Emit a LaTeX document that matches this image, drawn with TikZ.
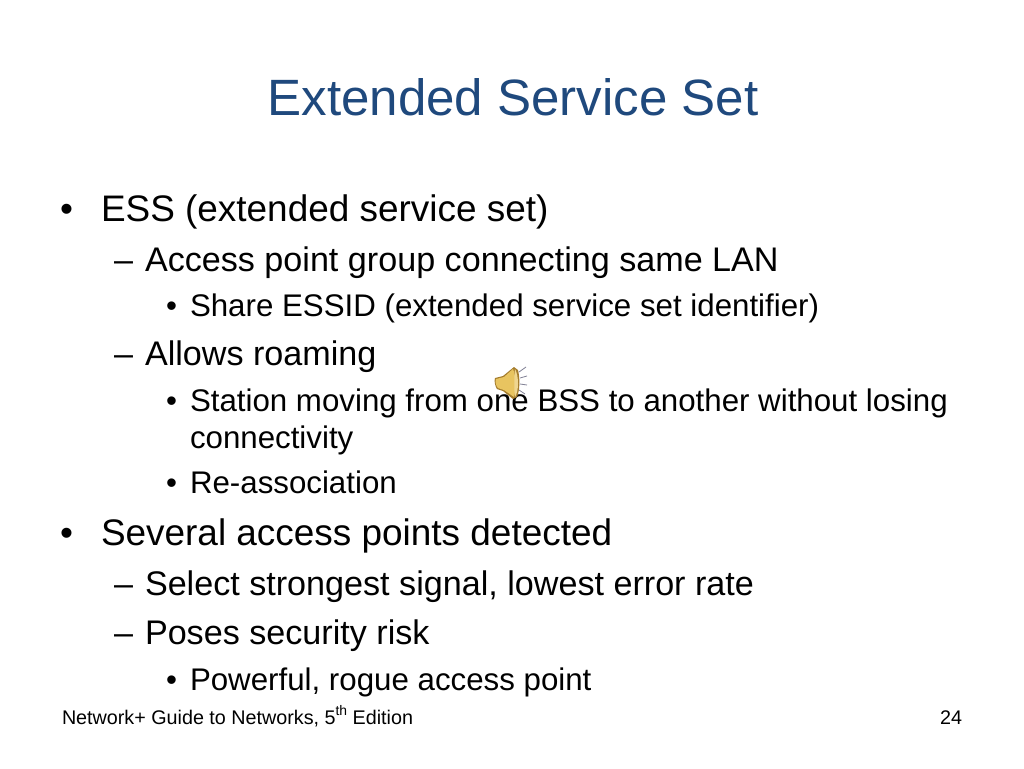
\documentclass[tikz,border=0pt]{standalone}
\usepackage{fontspec}
\setmainfont{Liberation Sans}
\definecolor{titleblue}{RGB}{31,73,125}
\definecolor{hornyellow}{RGB}{232,196,96}
\definecolor{horndark}{RGB}{165,125,45}
\definecolor{raygrey}{RGB}{130,130,150}
\tikzset{
  line/.style={anchor=base west, inner sep=0pt, outer sep=0pt, text=black},
  levelone/.style={line, font=\fontsize{27.7}{32}\selectfont},
  leveltwo/.style={line, font=\fontsize{25.6}{30}\selectfont},
  levelthree/.style={line, font=\fontsize{23.45}{28}\selectfont},
  footer/.style={line, font=\fontsize{14.8}{17}\selectfont}
}
\begin{document}
\begin{tikzpicture}[x=0.75pt,y=-0.75pt]
\useasboundingbox (0,0) rectangle (1024,768);
\fill[white] (0,0) rectangle (1024,768);
\node[anchor=base, inner sep=0pt, text=titleblue, font=\fontsize{38.3}{44}\selectfont] (title) at (513,115) {Extended Service Set};
% first block
\node[levelone] (bulletA) at (60,221) {•};
\node[levelone] (ess) at (101,221) {ESS (extended service set)};
\node[leveltwo] (dashA) at (114,271) {–};
\node[leveltwo] (group) at (145,271) {Access point group connecting same LAN};
\node[levelthree] (dotA) at (166,316) {•};
\node[levelthree] (share) at (190,316) {Share ESSID (extended service set identifier)};
\node[leveltwo] (dashB) at (114,365) {–};
\node[leveltwo] (roam) at (145,365) {Allows roaming};
\node[levelthree] (dotB) at (166,411) {•};
\node[levelthree] (moving) at (190,411) {Station moving from one BSS to another without losing};
\node[levelthree] (conn) at (190,448) {connectivity};
\node[levelthree] (dotC) at (166,493) {•};
\node[levelthree] (reassoc) at (190,493) {Re-association};
% second block
\node[levelone] (bulletB) at (60,545) {•};
\node[levelone] (several) at (101,545) {Several access points detected};
\node[leveltwo] (dashC) at (114,595) {–};
\node[leveltwo] (select) at (145,595) {Select strongest signal, lowest error rate};
\node[leveltwo] (dashD) at (114,644) {–};
\node[leveltwo] (poses) at (145,644) {Poses security risk};
\node[levelthree] (dotD) at (166,690) {•};
\node[levelthree] (rogue) at (190,690) {Powerful, rogue access point};
% footer
\node[footer] (guide) at (62,724) {Network+ Guide to Networks, 5\raisebox{0.42em}{\fontsize{10.4}{11}\selectfont th} Edition};
\node[footer, anchor=base east] (page) at (962,724) {24};
% speaker
\fill[horndark] (495,378) -- (503,376) -- (514,367) -- (518,370) .. controls (520,378) and (520,390) .. (517,397) -- (513,399) -- (503,391) -- (497,389) .. controls (495,386) and (494,381) .. (495,378) -- cycle;
\fill[hornyellow] (496,379) -- (504,377) -- (513,369) .. controls (516,376) and (516,390) .. (514,397) -- (504,390) -- (498,388) .. controls (496,386) and (495,382) .. (496,379) -- cycle;
\fill[hornyellow!70!white] (515,369) .. controls (519,376) and (519,391) .. (515,397) .. controls (514,390) and (514,376) .. (515,369) -- cycle;
\draw[raygrey, line width=0.6pt] (519,372) -- (526,367);
\draw[raygrey, line width=0.6pt] (520,378) -- (527,376);
\draw[raygrey, line width=0.6pt] (520,384) -- (527,385);
\draw[raygrey, line width=0.6pt] (519,390) -- (525,394);
\end{tikzpicture}
\end{document}
